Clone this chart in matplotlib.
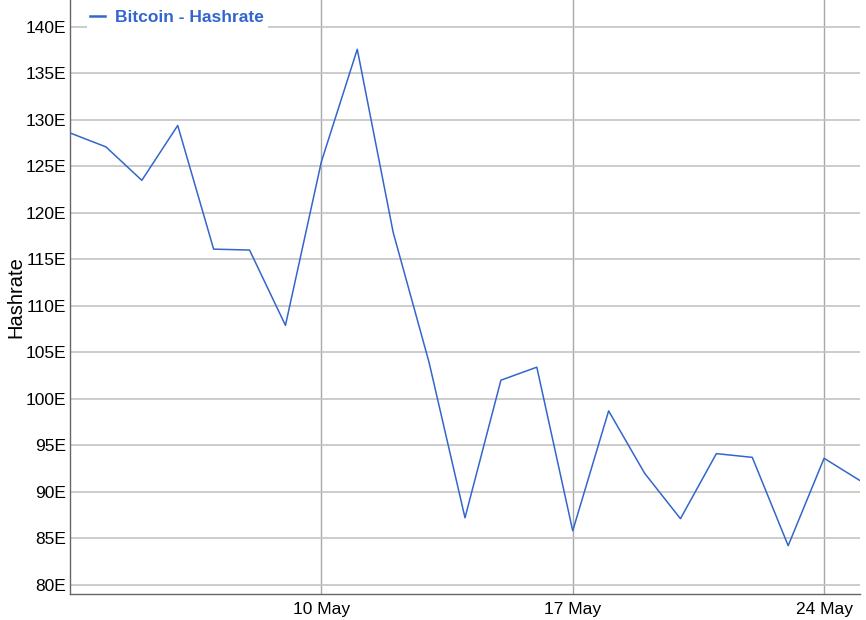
import numpy as np
import matplotlib
matplotlib.use('Agg')
import matplotlib.pyplot as plt
import matplotlib.dates as mdates
import matplotlib.ticker as mticker
import pandas as pd

# daily hashrate (EH/s), 3 May - 25 May
dates = pd.date_range('2021-05-03', '2021-05-25', freq='D')
hashrate = [128.6, 127.1, 123.5, 129.4, 116.1, 116.0, 107.9, 125.5, 137.6, 117.9,
            103.9, 87.2, 102.0, 103.4, 85.8, 98.7, 92.0, 87.1, 94.1, 93.7,
            84.2, 93.6, 91.2]
y_ticks = [80, 85, 90, 95, 100, 105, 110, 115, 120, 125, 130, 135, 140]
x_ticks = ['2021-05-10', '2021-05-17', '2021-05-24']

plt.rcParams['font.family'] = ['Liberation Sans', 'DejaVu Sans']

fig = plt.figure(figsize=(8.66, 6.2), dpi=100)
ax = fig.add_axes([70 / 866, 26 / 620, 790 / 866, 594 / 620])

line_color = '#3366cc'
ax.plot(dates, hashrate, color=line_color, lw=1.1, label='Bitcoin - Hashrate', zorder=3)

ax.set_xlim(dates[0], dates[-1])
ax.set_ylim(79, 142.9)

ax.set_yticks(y_ticks)
ax.yaxis.set_major_formatter(mticker.FuncFormatter(lambda v, p: '%dE' % v))
ax.set_xticks(pd.to_datetime(x_ticks))
ax.xaxis.set_major_formatter(mdates.DateFormatter('%-d %b'))

ax.tick_params(length=0, labelsize=12.5)
ax.tick_params(axis='y', pad=3)
ax.tick_params(axis='x', pad=6)
ax.grid(axis='y', color='#c4c4c4', lw=1.2, zorder=0)
ax.grid(axis='x', color='#a8a8a8', lw=1.0, zorder=0)

for s in ['top', 'right']:
    ax.spines[s].set_visible(False)
for s in ['left', 'bottom']:
    ax.spines[s].set_color('#666666')
    ax.spines[s].set_linewidth(1.0)

ax.set_ylabel('Hashrate', fontsize=14.5, labelpad=0)

leg = ax.legend(loc='upper left', bbox_to_anchor=(0.01, 1.004), frameon=True,
                fancybox=False, edgecolor='none', framealpha=1, fontsize=12.5,
                handlelength=0.85, handletextpad=0.6, borderpad=0.2)
for t in leg.get_texts():
    t.set_color(line_color)
    t.set_fontweight('bold')
for h in leg.get_lines():
    h.set_linewidth(1.8)

fig.savefig('out.png', dpi=100)
